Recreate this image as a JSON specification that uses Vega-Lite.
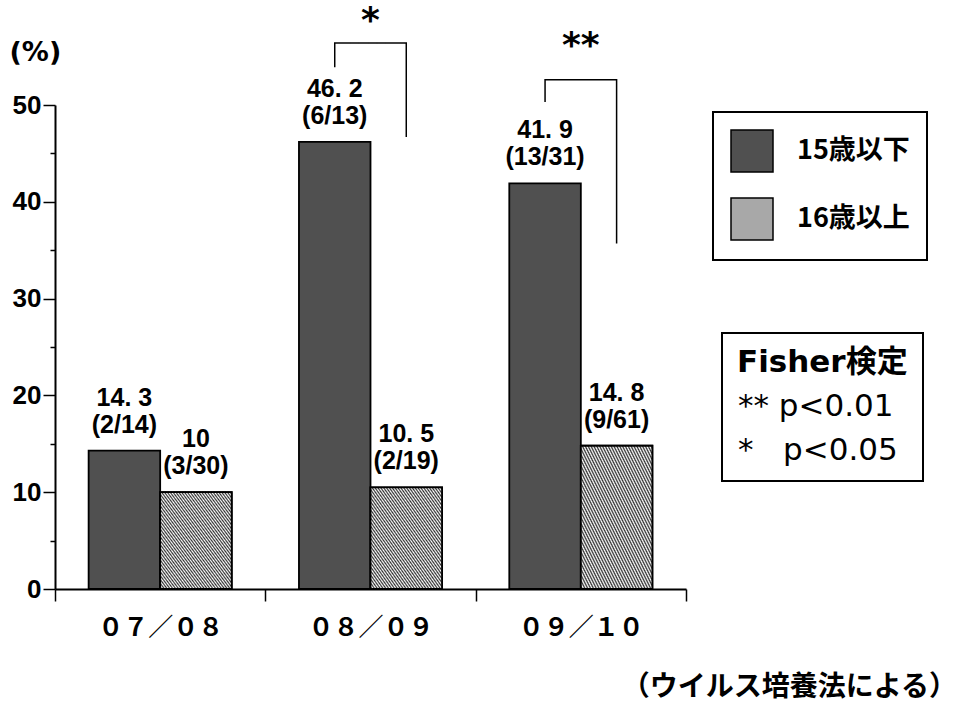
{
  "$schema": "https://vega.github.io/schema/vega-lite/v6.json",
  "width": 631,
  "height": 484,
  "autosize": {"type": "none"},
  "padding": {"left": 55, "top": 105, "right": 273, "bottom": 118},
  "background": "#ffffff",
  "config": {"view": {"stroke": null}, "legend": {"strokeWidth": 2}},
  "title": {
    "text": "（ウイルス培養法による）",
    "orient": "bottom",
    "anchor": "end",
    "frame": "group",
    "dx": 271,
    "offset": 34,
    "font": "Noto Sans CJK JP",
    "fontSize": 28,
    "fontWeight": "bold",
    "color": "#000000"
  },
  "datasets": {
    "rates": [
      {"period": "０７／０８", "age": "15歳以下", "rate": 14.3, "cases": 2, "total": 14},
      {"period": "０７／０８", "age": "16歳以上", "rate": 10, "cases": 3, "total": 30},
      {"period": "０８／０９", "age": "15歳以下", "rate": 46.2, "cases": 6, "total": 13},
      {"period": "０８／０９", "age": "16歳以上", "rate": 10.5, "cases": 2, "total": 19},
      {"period": "０９／１０", "age": "15歳以下", "rate": 41.9, "cases": 13, "total": 31},
      {"period": "０９／１０", "age": "16歳以上", "rate": 14.8, "cases": 9, "total": 61}
    ],
    "brackets": [
      {"period": "０８／０９", "age": "15歳以下", "level": 53.9, "step": 1, "sig": "*"},
      {"period": "０８／０９", "age": "15歳以下", "level": 56.4, "step": 2, "sig": "*"},
      {"period": "０８／０９", "age": "16歳以上", "level": 56.4, "step": 3, "sig": "*"},
      {"period": "０８／０９", "age": "16歳以上", "level": 46.7, "step": 4, "sig": "*"},
      {"period": "０９／１０", "age": "15歳以下", "level": 50.3, "step": 1, "sig": "**"},
      {"period": "０９／１０", "age": "15歳以下", "level": 52.6, "step": 2, "sig": "**"},
      {"period": "０９／１０", "age": "16歳以上", "level": 52.6, "step": 3, "sig": "**"},
      {"period": "０９／１０", "age": "16歳以上", "level": 35.7, "step": 4, "sig": "**"}
    ],
    "stars": [
      {"period": "０８／０９", "sig": "*", "level": 58.7},
      {"period": "０９／１０", "sig": "**", "level": 56.1}
    ]
  },
  "layer": [
    {
      "data": {"name": "rates"},
      "mark": {"type": "bar", "stroke": "#000000", "strokeWidth": 1.8},
      "encoding": {
        "x": {
          "field": "period",
          "type": "nominal",
          "scale": {"domain": ["０７／０８", "０８／０９", "０９／１０"], "paddingInner": 0, "paddingOuter": 0},
          "axis": {
            "title": null,
            "tickBand": "extent",
            "tickSize": 12,
            "tickColor": "#000000",
            "tickWidth": 1.5,
            "domainColor": "#000000",
            "domainWidth": 2,
            "labelAngle": 0,
            "labelFont": "Noto Sans CJK JP",
            "labelFontSize": 25,
            "labelFontWeight": "bold",
            "labelColor": "#000000",
            "labelPadding": 14
          }
        },
        "xOffset": {
          "field": "age",
          "type": "nominal",
          "scale": {"domain": ["15歳以下", "16歳以上"], "paddingInner": 0, "paddingOuter": 0.47}
        },
        "y": {
          "field": "rate",
          "type": "quantitative",
          "scale": {"domain": [0, 50], "nice": false},
          "axis": {
            "title": "(%)",
            "titleAngle": 0,
            "titleAlign": "left",
            "titleBaseline": "top",
            "titleX": -46,
            "titleY": -66,
            "titleFont": "DejaVu Sans",
            "titleFontWeight": "bold",
            "titleFontSize": 27,
            "titleColor": "#000000",
            "values": [0, 5, 10, 15, 20, 25, 30, 35, 40, 45, 50],
            "labelExpr": "datum.value % 10 === 0 ? datum.label : ''",
            "tickSize": {"condition": {"test": "datum.value % 10 === 0", "value": 12}, "value": 5},
            "tickColor": "#000000",
            "tickWidth": 1.5,
            "labelFont": "Liberation Sans",
            "labelFontWeight": "bold",
            "labelFontSize": 26,
            "labelColor": "#000000",
            "labelPadding": 2,
            "domainColor": "#000000",
            "domainWidth": 2,
            "grid": false
          }
        },
        "fill": {
          "field": "age",
          "type": "nominal",
          "scale": {"domain": ["15歳以下", "16歳以上"], "range": ["#505050", "#a8a8a8"]},
          "legend": {
            "title": null,
            "orient": "none",
            "legendX": 658,
            "legendY": 7,
            "direction": "vertical",
            "symbolType": "square",
            "symbolSize": 1764,
            "symbolStrokeColor": "#000000",
            "symbolStrokeWidth": 1.5,
            "symbolOpacity": 1,
            "labelFont": "Noto Sans CJK JP",
            "labelFontSize": 27,
            "labelFontWeight": "bold",
            "labelColor": "#000000",
            "labelOffset": 23,
            "rowPadding": 20,
            "padding": 17,
            "strokeColor": "#000000",
            "fillColor": "#ffffff"
          }
        }
      }
    },
    {
      "data": {"name": "rates"},
      "transform": [{"filter": "datum.age === '16歳以上'"}],
      "mark": {
        "type": "bar",
        "stroke": "#000000",
        "strokeWidth": 1.8,
        "fill": {
          "gradient": "linear",
          "x1": 0, "y1": 1, "x2": 1, "y2": 0,
          "stops": [
            {"offset": 0, "color": "#ffffff"}, {"offset": 0.01, "color": "#303030"},
            {"offset": 0.02, "color": "#ffffff"}, {"offset": 0.03, "color": "#303030"},
            {"offset": 0.04, "color": "#ffffff"}, {"offset": 0.05, "color": "#303030"},
            {"offset": 0.06, "color": "#ffffff"}, {"offset": 0.07, "color": "#303030"},
            {"offset": 0.08, "color": "#ffffff"}, {"offset": 0.09, "color": "#303030"},
            {"offset": 0.10, "color": "#ffffff"}, {"offset": 0.11, "color": "#303030"},
            {"offset": 0.12, "color": "#ffffff"}, {"offset": 0.13, "color": "#303030"},
            {"offset": 0.14, "color": "#ffffff"}, {"offset": 0.15, "color": "#303030"},
            {"offset": 0.16, "color": "#ffffff"}, {"offset": 0.17, "color": "#303030"},
            {"offset": 0.18, "color": "#ffffff"}, {"offset": 0.19, "color": "#303030"},
            {"offset": 0.20, "color": "#ffffff"}, {"offset": 0.21, "color": "#303030"},
            {"offset": 0.22, "color": "#ffffff"}, {"offset": 0.23, "color": "#303030"},
            {"offset": 0.24, "color": "#ffffff"}, {"offset": 0.25, "color": "#303030"},
            {"offset": 0.26, "color": "#ffffff"}, {"offset": 0.27, "color": "#303030"},
            {"offset": 0.28, "color": "#ffffff"}, {"offset": 0.29, "color": "#303030"},
            {"offset": 0.30, "color": "#ffffff"}, {"offset": 0.31, "color": "#303030"},
            {"offset": 0.32, "color": "#ffffff"}, {"offset": 0.33, "color": "#303030"},
            {"offset": 0.34, "color": "#ffffff"}, {"offset": 0.35, "color": "#303030"},
            {"offset": 0.36, "color": "#ffffff"}, {"offset": 0.37, "color": "#303030"},
            {"offset": 0.38, "color": "#ffffff"}, {"offset": 0.39, "color": "#303030"},
            {"offset": 0.40, "color": "#ffffff"}, {"offset": 0.41, "color": "#303030"},
            {"offset": 0.42, "color": "#ffffff"}, {"offset": 0.43, "color": "#303030"},
            {"offset": 0.44, "color": "#ffffff"}, {"offset": 0.45, "color": "#303030"},
            {"offset": 0.46, "color": "#ffffff"}, {"offset": 0.47, "color": "#303030"},
            {"offset": 0.48, "color": "#ffffff"}, {"offset": 0.49, "color": "#303030"},
            {"offset": 0.50, "color": "#ffffff"}, {"offset": 0.51, "color": "#303030"},
            {"offset": 0.52, "color": "#ffffff"}, {"offset": 0.53, "color": "#303030"},
            {"offset": 0.54, "color": "#ffffff"}, {"offset": 0.55, "color": "#303030"},
            {"offset": 0.56, "color": "#ffffff"}, {"offset": 0.57, "color": "#303030"},
            {"offset": 0.58, "color": "#ffffff"}, {"offset": 0.59, "color": "#303030"},
            {"offset": 0.60, "color": "#ffffff"}, {"offset": 0.61, "color": "#303030"},
            {"offset": 0.62, "color": "#ffffff"}, {"offset": 0.63, "color": "#303030"},
            {"offset": 0.64, "color": "#ffffff"}, {"offset": 0.65, "color": "#303030"},
            {"offset": 0.66, "color": "#ffffff"}, {"offset": 0.67, "color": "#303030"},
            {"offset": 0.68, "color": "#ffffff"}, {"offset": 0.69, "color": "#303030"},
            {"offset": 0.70, "color": "#ffffff"}, {"offset": 0.71, "color": "#303030"},
            {"offset": 0.72, "color": "#ffffff"}, {"offset": 0.73, "color": "#303030"},
            {"offset": 0.74, "color": "#ffffff"}, {"offset": 0.75, "color": "#303030"},
            {"offset": 0.76, "color": "#ffffff"}, {"offset": 0.77, "color": "#303030"},
            {"offset": 0.78, "color": "#ffffff"}, {"offset": 0.79, "color": "#303030"},
            {"offset": 0.80, "color": "#ffffff"}, {"offset": 0.81, "color": "#303030"},
            {"offset": 0.82, "color": "#ffffff"}, {"offset": 0.83, "color": "#303030"},
            {"offset": 0.84, "color": "#ffffff"}, {"offset": 0.85, "color": "#303030"},
            {"offset": 0.86, "color": "#ffffff"}, {"offset": 0.87, "color": "#303030"},
            {"offset": 0.88, "color": "#ffffff"}, {"offset": 0.89, "color": "#303030"},
            {"offset": 0.90, "color": "#ffffff"}, {"offset": 0.91, "color": "#303030"},
            {"offset": 0.92, "color": "#ffffff"}, {"offset": 0.93, "color": "#303030"},
            {"offset": 0.94, "color": "#ffffff"}, {"offset": 0.95, "color": "#303030"},
            {"offset": 0.96, "color": "#ffffff"}, {"offset": 0.97, "color": "#303030"},
            {"offset": 0.98, "color": "#ffffff"}, {"offset": 0.99, "color": "#303030"},
            {"offset": 1, "color": "#ffffff"}
          ]
        }
      },
      "encoding": {
        "x": {"field": "period", "type": "nominal"},
        "xOffset": {"field": "age", "type": "nominal"},
        "y": {"field": "rate", "type": "quantitative"}
      }
    },
    {
      "data": {"name": "rates"},
      "transform": [
        {"calculate": "replace(format(datum.rate, '.1~f'), '.', '. ')", "as": "rate_text"}
      ],
      "mark": {
        "type": "text",
        "baseline": "bottom",
        "dy": -40,
        "font": "Liberation Sans",
        "fontSize": 25,
        "fontWeight": "bold",
        "color": "#000000"
      },
      "encoding": {
        "x": {"field": "period", "type": "nominal"},
        "xOffset": {"field": "age", "type": "nominal"},
        "y": {"field": "rate", "type": "quantitative"},
        "text": {"field": "rate_text", "type": "nominal"}
      }
    },
    {
      "data": {"name": "rates"},
      "transform": [
        {"calculate": "'(' + datum.cases + '/' + datum.total + ')'", "as": "count_text"}
      ],
      "mark": {
        "type": "text",
        "baseline": "bottom",
        "dy": -13,
        "font": "Liberation Sans",
        "fontSize": 25,
        "fontWeight": "bold",
        "color": "#000000"
      },
      "encoding": {
        "x": {"field": "period", "type": "nominal"},
        "xOffset": {"field": "age", "type": "nominal"},
        "y": {"field": "rate", "type": "quantitative"},
        "text": {"field": "count_text", "type": "nominal"}
      }
    },
    {
      "data": {"name": "brackets"},
      "mark": {"type": "line", "color": "#000000", "strokeWidth": 1.5},
      "encoding": {
        "x": {"field": "period", "type": "nominal"},
        "xOffset": {"field": "age", "type": "nominal"},
        "y": {"field": "level", "type": "quantitative"},
        "order": {"field": "step", "type": "quantitative"},
        "detail": {"field": "period", "type": "nominal"},
        "strokeDash": {
          "field": "sig",
          "type": "nominal",
          "scale": {"domain": ["**", "*"], "range": [[1, 0], [1, 0]]},
          "legend": {
            "title": "Fisher検定",
            "orient": "none",
            "legendX": 667,
            "legendY": 228,
            "titleFont": "DejaVu Sans, Noto Sans CJK JP",
            "titleFontSize": 31,
            "titleFontWeight": "bold",
            "titleColor": "#000000",
            "titlePadding": 12,
            "labelExpr": "datum.value === '**' ? '** p<0.01' : '*\u00a0\u00a0\u00a0p<0.05'",
            "labelFont": "DejaVu Sans",
            "labelFontSize": 31,
            "labelColor": "#000000",
            "symbolSize": 0,
            "symbolStrokeWidth": 0,
            "symbolOpacity": 0,
            "labelOffset": -30,
            "rowPadding": 12,
            "padding": 15,
            "strokeColor": "#000000",
            "fillColor": "#ffffff"
          }
        }
      }
    },
    {
      "data": {"name": "stars"},
      "mark": {
        "type": "text",
        "baseline": "middle",
        "font": "DejaVu Sans",
        "fontSize": 36,
        "fontWeight": "bold",
        "color": "#000000"
      },
      "encoding": {
        "x": {"field": "period", "type": "nominal"},
        "y": {"field": "level", "type": "quantitative"},
        "text": {"field": "sig", "type": "nominal"}
      }
    }
  ]
}
